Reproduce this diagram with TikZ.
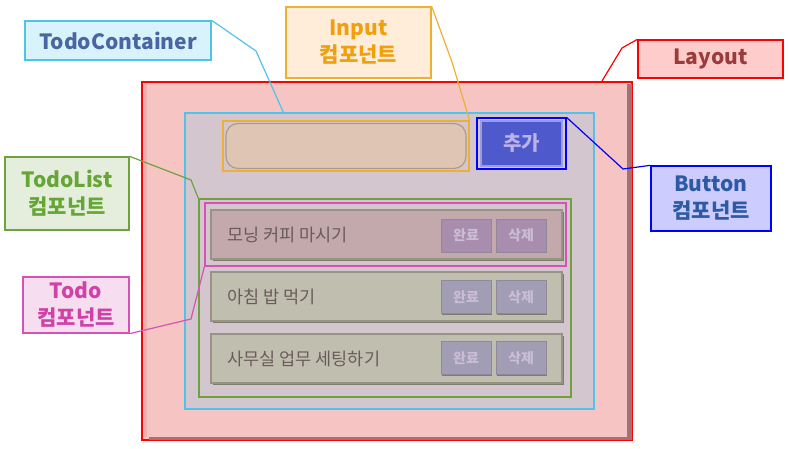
\documentclass[tikz,border=0pt]{standalone}
\usepackage{fontspec}
\setmainfont{Noto Sans CJK KR}
\usepackage{tikz}
\usetikzlibrary{
    positioning,
    calc,
    shadows
}
\usepackage{xcolor}

\definecolor{layoutfill}{HTML}{F6C4C3}
\definecolor{layoutdark}{HTML}{A47272}
\definecolor{layoutlight}{HTML}{EAB2B2}
\definecolor{contfill}{HTML}{D4C6CF}
\definecolor{contline}{HTML}{4FC3EA}
\definecolor{inputline}{HTML}{EEB030}
\definecolor{fieldfill}{HTML}{DEC5B4}
\definecolor{fieldline}{HTML}{B09A8C}
\definecolor{btnfill}{HTML}{4E5ACB}
\definecolor{btnline}{HTML}{9C9CDE}
\definecolor{btntext}{HTML}{BBB2EA}
\definecolor{listline}{HTML}{6FA23E}
\definecolor{todoline}{HTML}{D653B6}
\definecolor{itemone}{HTML}{C3A8AC}
\definecolor{itemtwo}{HTML}{C0BEAE}
\definecolor{itemline}{HTML}{979484}
\definecolor{itemshadow}{HTML}{7E7C6C}
\definecolor{itemtext}{HTML}{6A5C5C}
\definecolor{smallone}{HTML}{A98DAF}
\definecolor{smalltwo}{HTML}{A09DB5}
\definecolor{smallline}{HTML}{918898}
\definecolor{smalltext}{HTML}{CBBDD4}
\definecolor{conttext}{HTML}{4A66A2}
\definecolor{inputtext}{HTML}{F0A00C}
\definecolor{layouttext}{HTML}{9A3C3C}
\definecolor{buttontext}{HTML}{2C5AA4}
\definecolor{listtext}{HTML}{66A636}
\definecolor{todotext}{HTML}{D042A6}

\begin{document}
\begin{tikzpicture}[
    x=1pt, y=-1pt,
    every node/.style={inner sep=0pt},
    caixa/.style={
        draw,
        line width=1.2pt,
        minimum width=#1
    },
    rotulo/.style={
        draw,
        line width=1.3pt,
        align=center,
        font=\fontsize{21}{27}\selectfont\bfseries
    },
    item/.style={
        draw=itemline,
        line width=1.5pt,
        minimum width=351pt,
        minimum height=49pt,
        drop shadow={shadow xshift=1.5pt, shadow yshift=-1.5pt,
            fill=itemshadow, opacity=1}
    },
    botao/.style={
        draw=smallline,
        line width=1pt,
        minimum width=50pt,
        minimum height=33pt,
        text=smalltext,
        font=\fontsize{14}{14}\selectfont\bfseries,
        drop shadow={shadow xshift=1.2pt, shadow yshift=-1.2pt,
            fill=itemshadow, opacity=1}
    },
    tarefa/.style={
        anchor=west,
        text=itemtext,
        font=\fontsize{17.5}{17.5}\selectfont
    },
    ligacao/.style={
        line width=1.2pt
    }
]

\useasboundingbox (0,0) rectangle (789,449);

% Layout
\node[caixa=490pt, draw=red, line width=2pt, fill=layoutfill,
    minimum height=358pt] (layout) at (387,261) {};
\fill[layoutdark] ($(layout.north east)+(-6,3)$) rectangle ($(layout.south east)+(-1.5,-1.5)$);
\fill[layoutdark] ($(layout.south west)+(8,-4)$) rectangle ($(layout.south east)+(-1.5,-1.5)$);
\fill[layoutlight] ($(layout.north west)+(3,3)$) rectangle ($(layout.south west)+(6,-4)$);

% TodoContainer
\node[caixa=409pt, draw=contline, fill=contfill, minimum height=296pt]
    (container) at (389.5,261) {};

% Input
\node[caixa=246pt, draw=inputline, minimum height=50pt] (inputbox) at (346,146) {};
\node[draw=fieldline, line width=1.2pt, fill=fieldfill, rounded corners=12pt,
    minimum width=240pt, minimum height=45pt] (field) at (inputbox) {};

% Button
\node[caixa=89pt, draw=blue, minimum height=51pt] (button) at (521.5,143.5) {};
\node[draw=btnline, line width=1.2pt, fill=btnfill, minimum width=81pt,
    minimum height=45pt, text=btntext, font=\fontsize{20}{20}\selectfont\bfseries]
    (add) at (button) {추가};

% TodoList
\node[caixa=372pt, draw=listline, minimum height=198pt] (todolist) at (385,298) {};

% Todo
\node[item, fill=itemone] (item1) at (386.5,234.5) {};
\node[item, fill=itemtwo] (item2) at (386.5,296.5) {};
\node[item, fill=itemtwo] (item3) at (386.5,358.5) {};

\node[tarefa] (text1) at ($(item1.west)+(17,0)$) {모닝 커피 마시기};
\node[tarefa] (text2) at ($(item2.west)+(17,0)$) {아침 밥 먹기};
\node[tarefa] (text3) at ($(item3.west)+(17,0)$) {사무실 업무 세팅하기};

\node[botao, fill=smallone] (done1) at (466,235.5) {완료};
\node[botao, fill=smallone] (del1) at (521,235.5) {삭제};
\node[botao, fill=smalltwo] (done2) at (466,297) {완료};
\node[botao, fill=smalltwo] (del2) at (521,297) {삭제};
\node[botao, fill=smalltwo] (done3) at (466,358) {완료};
\node[botao, fill=smalltwo] (del3) at (521,358) {삭제};

\node[caixa=361pt, draw=todoline, minimum height=63pt] (todo) at (385.5,234.5) {};

% rotulos
\node[rotulo, draw=contline, fill=cyan!15, text=conttext,
    minimum width=186pt, minimum height=39pt] (lblcontainer) at (118,40.5) {TodoContainer};
\node[rotulo, draw=inputline, fill=orange!15!white, text=inputtext,
    minimum width=145pt, minimum height=71pt] (lblinput) at (358.5,42.5) {Input\\컴포넌트};
\node[rotulo, draw=red, fill=red!20, text=layouttext,
    minimum width=145pt, minimum height=38pt] (lbllayout) at (710.5,59) {Layout};
\node[rotulo, draw=blue, fill=blue!20, text=buttontext,
    minimum width=120pt, minimum height=65pt] (lblbutton) at (711,198.5) {Button\\컴포넌트};
\node[rotulo, draw=listline, fill=listline!18, text=listtext,
    minimum width=124pt, minimum height=73pt] (lbllist) at (67,193.5) {TodoList\\컴포넌트};
\node[rotulo, draw=todoline, fill=todoline!20, text=todotext,
    minimum width=106pt, minimum height=56pt] (lbltodo) at (76,305) {Todo\\컴포넌트};

% ligacoes
\draw[ligacao, contline] (lblcontainer.north east) -- (256,51) -- ($(container.north west)+(99,0)$);
\draw[ligacao, inputline] (lblinput.north east) -- (452,62) -- (inputbox.north east);
\draw[ligacao, red] (lbllayout.north west) -- (622,48) -- ($(layout.north west)+(461,0)$);
\draw[ligacao, blue] (button.north east) -- (623,169) -- (lblbutton.north west);
\draw[ligacao, listline] (lbllist.north east) -- (191,180) -- (todolist.north west);
\draw[ligacao, todoline] (lbltodo.south east) -- (191,319) -- (todo.south west);

\end{tikzpicture}
\end{document}
